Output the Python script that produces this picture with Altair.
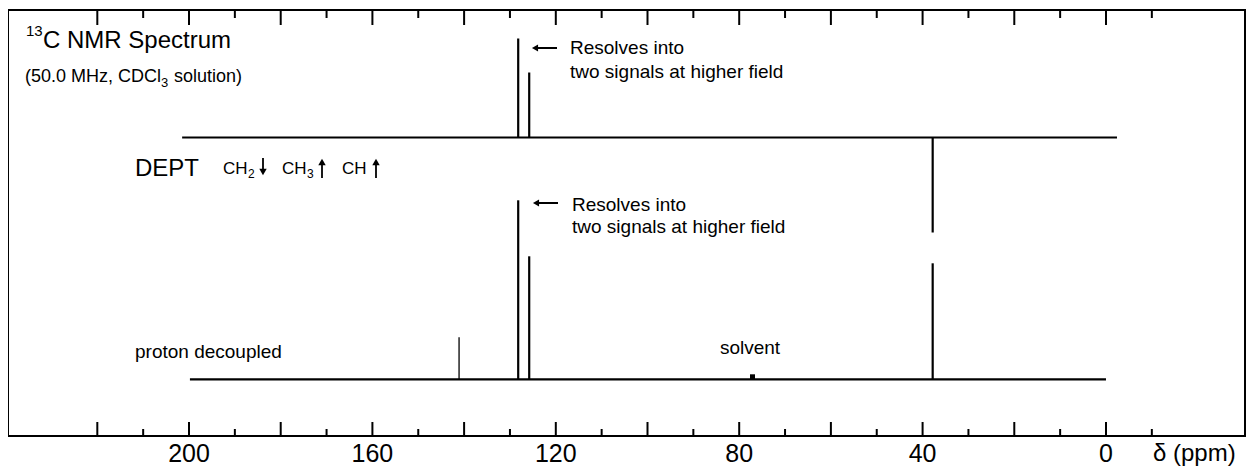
import altair as alt
import pandas as pd

# ---------------- data ----------------
# chemical-shift axis ticks (ppm)
major_ticks = [220, 200, 180, 160, 140, 120, 100, 80, 60, 40, 20, 0]
minor_ticks = [210, 190, 170, 150, 130, 110, 90, 70, 50, 30, 10, -10]
tick_labels = [200, 160, 120, 80, 40, 0]

# upper trace: DEPT spectrum (CH up, CH2 down)
dept_ppm = [128.2, 125.8, 37.8]
dept_int = [99, 65, -95]
dept_span = [201.5, -2.4]

# lower trace: proton-decoupled spectrum
dec_ppm = [141.1, 128.2, 125.8, 37.8]
dec_int = [42, 179, 123, 116]
dec_span = [199.8, 0.0]

# solvent (CDCl3) signal
solvent_ppm = [77.1]
solvent_int = [5]

# ---------------- layout ----------------
W, H = 1237, 426
DEPT_BASE, DEC_BASE = 298.5, 56.7   # vertical offsets of the two stacked traces
FONT = "Liberation Sans"

xs = alt.Scale(domain=[-30.32, 239.48], reverse=True, nice=False, zero=False)
ys = alt.Scale(domain=[0, H], nice=False, zero=False)

spans = pd.DataFrame({
    "start": [dept_span[0], dec_span[0]],
    "end": [dept_span[1], dec_span[1]],
    "base": [DEPT_BASE, DEC_BASE],
})

rows = []
for p, h in zip(dept_ppm, dept_int):
    rows.append({"ppm": p, "h": h, "y0": DEPT_BASE, "y1": DEPT_BASE + h})
for p, h in zip(dec_ppm, dec_int):
    rows.append({"ppm": p, "h": h, "y0": DEC_BASE, "y1": DEC_BASE + h})
peaks = pd.DataFrame(rows)

solv = pd.DataFrame({"ppm": solvent_ppm, "y0": [DEC_BASE] * len(solvent_ppm),
                     "y1": [DEC_BASE + v for v in solvent_int]})

maj = pd.DataFrame({"ppm": major_ticks})
mnr = pd.DataFrame({"ppm": minor_ticks})
labs = pd.DataFrame({"ppm": tick_labels, "lab": [str(v) for v in tick_labels]})

one = pd.DataFrame({"k": [0]})

X = lambda f: alt.X(f, scale=xs, axis=None)
Y = lambda f: alt.Y(f, scale=ys, axis=None)

baseline = alt.Chart(spans).mark_rule(strokeWidth=2.2, color="black").encode(
    x=X("start:Q"), x2="end:Q", y=Y("base:Q"))

peak_rules = alt.Chart(peaks).mark_rule(color="black").encode(
    x=X("ppm:Q"), y=Y("y0:Q"), y2="y1:Q",
    strokeWidth=alt.condition("datum.h > 0 && datum.h < 60", alt.value(1.3),
                              alt.value(2.2)))

solvent = alt.Chart(solv).mark_rule(color="black", strokeWidth=5).encode(
    x=X("ppm:Q"), y=Y("y0:Q"), y2="y1:Q")

top_major = alt.Chart(maj).mark_rule(color="black", strokeWidth=2).encode(
    x=X("ppm:Q"), y=alt.value(0), y2=alt.value(15))
top_minor = alt.Chart(mnr).mark_rule(color="black", strokeWidth=2).encode(
    x=X("ppm:Q"), y=alt.value(0), y2=alt.value(8))
bot_major = alt.Chart(maj).mark_rule(color="black", strokeWidth=2).encode(
    x=X("ppm:Q"), y=alt.value(H), y2=alt.value(H - 14))
bot_minor = alt.Chart(mnr).mark_rule(color="black", strokeWidth=2).encode(
    x=X("ppm:Q"), y=alt.value(H), y2=alt.value(H - 7))

tick_text = alt.Chart(labs).mark_text(font=FONT, fontSize=25, baseline="alphabetic",
                                      align="center", color="black").encode(
    x=X("ppm:Q"), y=alt.value(H + 26), text="lab:N")


def label(txt, x, y, size, align="left", baseline="alphabetic"):
    return alt.Chart(one).mark_text(text=txt, font=FONT, fontSize=size, align=align,
                                    baseline=baseline, color="black").encode(
        x=alt.value(x), y=alt.value(y))


def hline(x1, x2, y, w=2):
    return alt.Chart(one).mark_rule(color="black", strokeWidth=w).encode(
        x=alt.value(x1), x2=alt.value(x2), y=alt.value(y))


def vline(x, y1, y2, w=1.8):
    return alt.Chart(one).mark_rule(color="black", strokeWidth=w).encode(
        x=alt.value(x), y=alt.value(y1), y2=alt.value(y2))


def head(x, y, shape, size=45):
    return alt.Chart(one).mark_point(shape=shape, filled=True, color="black",
                                     opacity=1, size=size, strokeWidth=0).encode(
        x=alt.value(x), y=alt.value(y))


texts = [
    label("13", 18, 26, 15),
    label("C NMR Spectrum", 35, 38, 24),
    label("(50.0 MHz, CDCl", 17, 72, 18),
    label("3", 153, 77, 13),
    label("solution)", 166, 72, 18),
    label("DEPT", 127, 166, 24),
    label("CH", 215, 164, 17),
    label("2", 240, 168, 12),
    label("CH", 274, 164, 17),
    label("3", 299, 168, 12),
    label("CH", 334, 164, 17),
    label("Resolves into", 562, 38, 19, baseline="middle"),
    label("two signals at higher field", 562, 62, 19, baseline="middle"),
    label("Resolves into", 564, 195, 19, baseline="middle"),
    label("two signals at higher field", 564, 217, 19, baseline="middle"),
    label("solvent", 742, 338, 19, align="center", baseline="middle"),
    label("proton decoupled", 127, 342, 19, baseline="middle"),
    label("\u03b4 (ppm)", 1145, H + 25, 24),
]

arrows = [
    # DEPT legend arrows
    vline(255, 148, 160), head(255, 162, "triangle-down", 55),
    vline(314, 155, 168), head(314, 152, "triangle-up", 55),
    vline(368, 155, 168), head(368, 152, "triangle-up", 55),
    # "resolves into" pointers
    hline(530, 549, 38), head(527, 38, "triangle-left", 50),
    hline(531, 550, 193), head(528, 193, "triangle-left", 50),
]

chart = alt.layer(
    baseline, peak_rules, solvent, top_major, top_minor, bot_major, bot_minor,
    tick_text, *texts, *arrows
).properties(
    width=W, height=H,
    background="white",
    autosize=alt.AutoSizeParams(type="none"),
    padding={"left": 0, "top": 2, "right": 2, "bottom": 31},
).configure_view(stroke="black", strokeWidth=2)

chart.save("out.html", embed_options={"renderer": "svg", "actions": False})
